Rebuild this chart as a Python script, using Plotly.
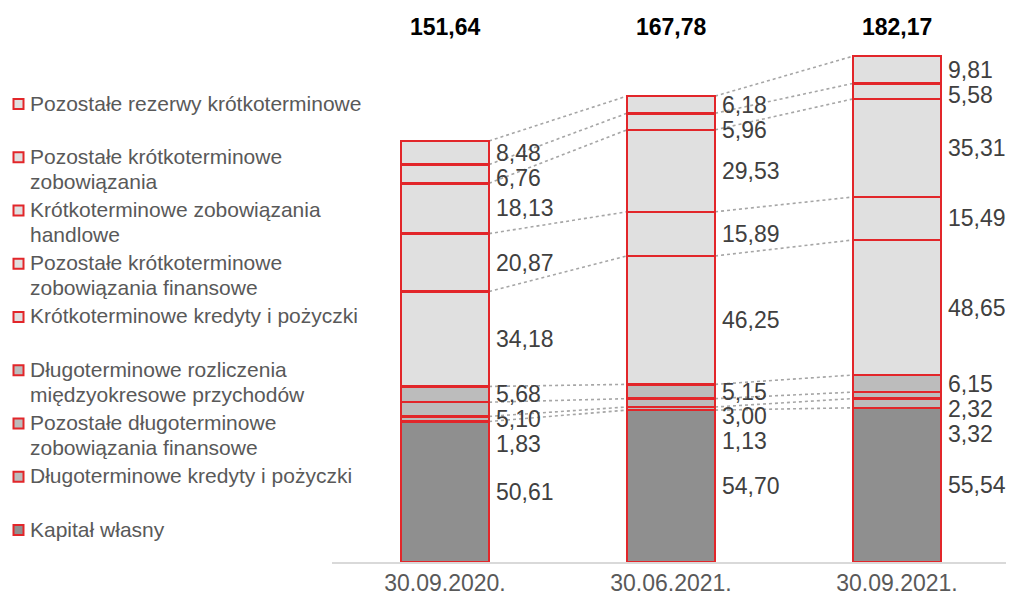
import plotly.graph_objects as go

categories = ["30.09.2020.", "30.06.2021.", "30.09.2021."]

# series, bottom to top
series_names = [
    "Kapitał własny",
    "Długoterminowe kredyty i pożyczki",
    "Pozostałe długoterminowe<br>zobowiązania finansowe",
    "Długoterminowe rozliczenia<br>międzyokresowe przychodów",
    "Krótkoterminowe kredyty i pożyczki",
    "Pozostałe krótkoterminowe<br>zobowiązania finansowe",
    "Krótkoterminowe zobowiązania<br>handlowe",
    "Pozostałe krótkoterminowe<br>zobowiązania",
    "Pozostałe rezerwy krótkoterminowe",
]
kapital = [50.61, 54.70, 55.54]
dl_kredyty = [1.83, 1.13, 3.32]
dl_pozostale_fin = [5.10, 3.00, 2.32]
dl_rozliczenia = [5.68, 5.15, 6.15]
kr_kredyty = [34.18, 46.25, 48.65]
kr_pozostale_fin = [20.87, 15.89, 15.49]
kr_handlowe = [18.13, 29.53, 35.31]
kr_pozostale = [6.76, 5.96, 5.58]
kr_rezerwy = [8.48, 6.18, 9.81]
totals = [151.64, 167.78, 182.17]

series_values = [kapital, dl_kredyty, dl_pozostale_fin, dl_rozliczenia,
                 kr_kredyty, kr_pozostale_fin, kr_handlowe, kr_pozostale, kr_rezerwy]

DARK = "#8f8f8f"
MID = "#bcbcbc"
LIGHT = "#e0e0e0"
fills = [DARK, MID, MID, MID, LIGHT, LIGHT, LIGHT, LIGHT, LIGHT]
RED = "#e2262a"
FONT = "Arial, Liberation Sans, sans-serif"
BAR_W = 0.39

# figure geometry (page body adds an 8px offset)
W, H = 1006, 591
ML, MR, MT, MB = 324, 4, 12, 37
PW, PH = W - ML - MR, H - MT - MB

def px_x(px):  # absolute page px -> paper x
    return (px - 8 - ML) / PW

def px_y(py):  # absolute page py -> paper y
    return (H - MB - (py - 8)) / PH

fig = go.Figure()
for name, vals, col in zip(series_names, series_values, fills):
    fig.add_trace(go.Bar(
        x=categories, y=vals, name=name, width=BAR_W,
        marker=dict(color=col, line=dict(color=RED, width=2.5)),
        hoverinfo="skip", showlegend=False,
    ))

# cumulative boundaries
n = len(categories)
tops = []
acc = [0.0] * n
for vals in series_values:
    acc = [a + v for a, v in zip(acc, vals)]
    tops.append(list(acc))

shapes = []
for k in range(len(series_values)):
    for i in range(n - 1):
        shapes.append(dict(
            type="line", xref="x", yref="y", layer="below",
            x0=i + BAR_W / 2, y0=tops[k][i], x1=i + 1 - BAR_W / 2, y1=tops[k][i + 1],
            line=dict(color="#a6a6a6", width=1.6, dash="dot"),
        ))

# data labels: segment centres, decluttered top-down
GAP = 9.0
annotations = []
for i in range(n):
    centres = []
    for k, vals in enumerate(series_values):
        base = tops[k][i] - vals[i]
        centres.append(base + vals[i] / 2)
    pos = list(centres)
    for k in range(len(pos) - 2, -1, -1):
        if pos[k] > pos[k + 1] - GAP:
            pos[k] = pos[k + 1] - GAP
    for k, vals in enumerate(series_values):
        annotations.append(dict(
            x=i + BAR_W / 2, y=pos[k], xref="x", yref="y",
            text=f"{vals[i]:.2f}".replace(".", ","),
            showarrow=False, xanchor="left", yanchor="middle", xshift=5,
            font=dict(family=FONT, size=23, color="#404040"),
        ))
    annotations.append(dict(
        x=i, y=1, xref="x", yref="paper",
        text=f"<b>{totals[i]:.2f}</b>".replace(".", ","),
        showarrow=False, xanchor="center", yanchor="middle", yshift=-7,
        font=dict(family=FONT, size=23, color="#000000"),
    ))

# manual legend (top item first)
LEG_TOP, LEG_STEP, LINE_H = 103, 53.25, 25
for j, k in enumerate(range(len(series_names) - 1, -1, -1)):
    y0 = LEG_TOP + j * LEG_STEP
    for li, line in enumerate(series_names[k].split("<br>")):
        annotations.append(dict(
            x=px_x(28), y=px_y(y0 + li * LINE_H), xref="paper", yref="paper",
            text=line, showarrow=False, xanchor="left", yanchor="middle",
            font=dict(family=FONT, size=21, color="#595959"),
        ))
    shapes.append(dict(
        type="rect", xref="paper", yref="paper",
        x0=px_x(13.5), x1=px_x(23.5), y0=px_y(y0 + 6), y1=px_y(y0 - 4),
        fillcolor=fills[k], line=dict(color=RED, width=2),
    ))

fig.update_layout(
    width=W, height=H,
    margin=dict(l=ML, r=MR, t=MT, b=MB),
    barmode="stack",
    plot_bgcolor="white", paper_bgcolor="white",
    shapes=shapes, annotations=annotations,
    showlegend=False,
    xaxis=dict(
        type="category", range=[-0.5, 2.5], showline=True, linecolor="#d9d9d9",
        linewidth=1.5, ticks="", showgrid=False,
        tickfont=dict(family=FONT, size=23, color="#595959"),
    ),
    yaxis=dict(range=[0, 195.2], visible=False, showgrid=False, zeroline=False),
    font=dict(family=FONT),
)

fig.write_html("out.html")
